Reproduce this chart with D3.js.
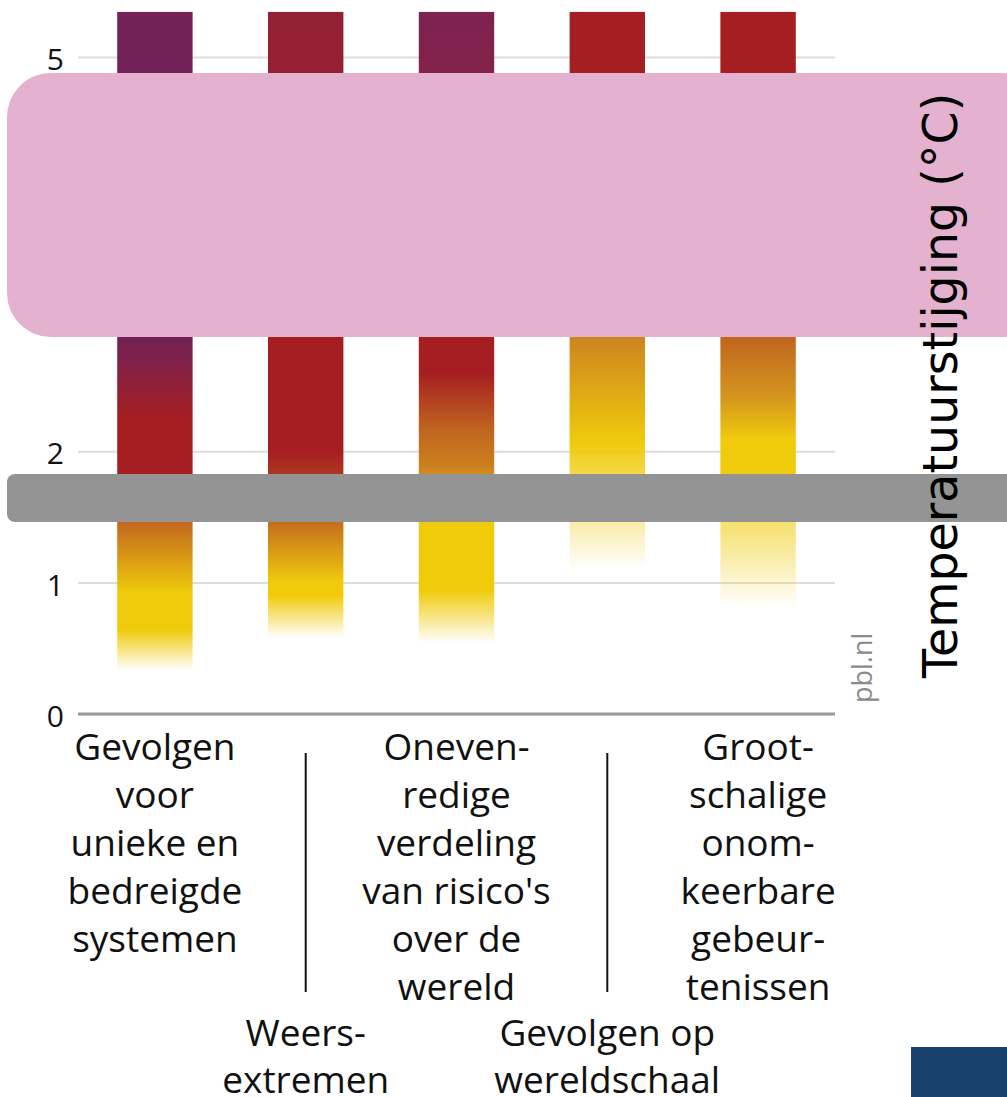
<!DOCTYPE html>
<html>
<head>
<meta charset="utf-8">
<script src="https://cdn.jsdelivr.net/npm/d3@7"></script>
<style>
  body { margin: 0; background: #fff; }
</style>
</head>
<body>
<div id="chart"></div>
<script>
// categories (one bar each) and how their labels wrap
const categories = ["unique", "weather", "unequal", "global", "largescale"];
const labelLines = [
    ["Gevolgen", "voor", "unieke en", "bedreigde", "systemen"],
    ["Weers-", "extremen"],
    ["Oneven-", "redige", "verdeling", "van risico's", "over de", "wereld"],
    ["Gevolgen op", "wereldschaal"],
    ["Groot-", "schalige", "onom-", "keerbare", "gebeur-", "tenissen"]
];
// bars fade out at barLow, run up to barTop
const barLow = [0.33, 0.58, 0.54, 1.1, 0.81];
const barTop = 5.343;
const yTicks = [0, 1, 2, 3, 4, 5];

const P = "#722257", R = "#a51e22", O = "#c0651f", G = "#d4961e", Y = "#f0cb0c";
// colour stops per bar: [temperature, colour, opacity]
const colourStops = [
    [[0.33, Y, 0], [0.64, Y, 1], [0.92, Y, 1], [1.47, O, 1], [1.75, R, 1], [2.25, R, 1], [2.85, P, 1], [5.35, P, 1]],
    [[0.58, Y, 0], [0.9, Y, 1], [1.0, Y, 1], [1.5, O, 1], [2.0, R, 1], [2.9, R, 1], [5.35, "#932035", 1]],
    [[0.54, Y, 0], [0.94, Y, 1], [1.55, Y, 1], [1.88, "#cc801f", 1], [2.16, O, 1], [2.6, R, 1], [2.9, R, 1], [5.35, "#7c2352", 1]],
    [[1.1, Y, 0], [1.5, Y, 0.4], [1.88, Y, 0.8], [2.06, Y, 1], [2.87, "#cc8520", 1], [3.6, O, 1], [4.3, R, 1], [5.35, R, 1]],
    [[0.81, Y, 0], [1.02, Y, 0.2], [1.46, Y, 0.6], [1.8, Y, 1], [2.09, Y, 1], [2.41, G, 1], [2.87, O, 1], [3.6, R, 1], [5.35, R, 1]]
];

const width = 1007;
const height = 1097;

const svg = d3.select("#chart").append("svg")
    .attr("width", width)
    .attr("height", height)
    .attr("font-family", "Open Sans");

const x = d3.scaleBand().domain(categories).range([78, 835])
    .paddingInner(0.5).paddingOuter(0.26);
const y = d3.scaleLinear().domain([0, 5]).range([714, 57]);

// gridlines + tick labels
const yAxis = svg.append("g")
    .attr("transform", "translate(78,0)")
    .call(d3.axisLeft(y).tickValues(yTicks).tickSize(-(835 - 78)).tickPadding(14).tickFormat(d3.format("d")));
yAxis.attr("font-family", "Open Sans").attr("font-size", 30);
yAxis.select(".domain").remove();
yAxis.selectAll(".tick line").attr("stroke", "#dddddd").attr("stroke-width", 2);
yAxis.selectAll(".tick text")
    .attr("fill", "#111")
    .attr("dy", "0.42em");

// gradients
const defs = svg.append("defs");
categories.forEach((c, i) => {
    const grad = defs.append("linearGradient")
        .attr("id", "grad" + i)
        .attr("gradientUnits", "userSpaceOnUse")
        .attr("x1", 0).attr("x2", 0)
        .attr("y1", y(0)).attr("y2", y(barTop));
    grad.selectAll("stop")
        .data(colourStops[i])
        .enter()
        .append("stop")
        .attr("offset", d => d[0] / barTop)
        .attr("stop-color", d => d[1])
        .attr("stop-opacity", d => d[2]);
});

svg.selectAll("rect.bar")
    .data(categories)
    .enter()
    .append("rect")
    .attr("class", "bar")
    .attr("x", d => x(d))
    .attr("width", x.bandwidth())
    .attr("y", y(barTop))
    .attr("height", (d, i) => y(barLow[i]) - y(barTop))
    .attr("fill", (d, i) => "url(#grad" + i + ")");

// zero line
svg.append("line")
    .attr("x1", 78).attr("x2", 835)
    .attr("y1", y(0)).attr("y2", y(0))
    .attr("stroke", "#9a9a9a")
    .attr("stroke-width", 3);

// category labels: odd bars go in a lower row
const labels = svg.selectAll("text.cat")
    .data(categories)
    .enter()
    .append("text")
    .attr("class", "cat")
    .attr("text-anchor", "middle")
    .attr("font-size", 37)
    .attr("fill", "#111")
    .attr("transform", (d, i) => `translate(${x(d) + x.bandwidth() / 2},${i % 2 ? 1046 : 760})`);
labels.selectAll("tspan")
    .data((d, i) => labelLines[i])
    .enter()
    .append("tspan")
    .attr("x", 0)
    .attr("y", (d, j) => j * 46.5)
    .text(d => d);
labels.filter((d, i) => i % 2 === 0).selectAll("tspan")
    .attr("y", (d, j) => j * 48);

// separators above the lower-row labels
svg.selectAll("line.sep")
    .data([categories[1], categories[3]])
    .enter()
    .append("line")
    .attr("class", "sep")
    .attr("x1", d => x(d) + x.bandwidth() / 2)
    .attr("x2", d => x(d) + x.bandwidth() / 2)
    .attr("y1", 753).attr("y2", 992)
    .attr("stroke", "#111")
    .attr("stroke-width", 2);

// overlays
svg.append("rect")
    .attr("x", 7).attr("y", 73)
    .attr("width", 1040).attr("height", 264)
    .attr("rx", 44)
    .attr("fill", "#e4b2cf");
svg.append("rect")
    .attr("x", 7).attr("y", 474)
    .attr("width", 1040).attr("height", 48)
    .attr("rx", 8)
    .attr("fill", "#949494");

svg.append("text")
    .attr("transform", "translate(957,678) rotate(-90)")
    .attr("font-family", "DejaVu Sans")
    .attr("font-size", 47.5)
    .attr("fill", "#000")
    .text("Temperatuurstijging (°C)");

svg.append("text")
    .attr("transform", "translate(872,703) rotate(-90)")
    .attr("font-size", 27)
    .attr("fill", "#8a8a8a")
    .text("pbl.nl");

svg.append("rect")
    .attr("x", 911).attr("y", 1047)
    .attr("width", 96).attr("height", 50)
    .attr("fill", "#18416e");
</script>
</body>
</html>
